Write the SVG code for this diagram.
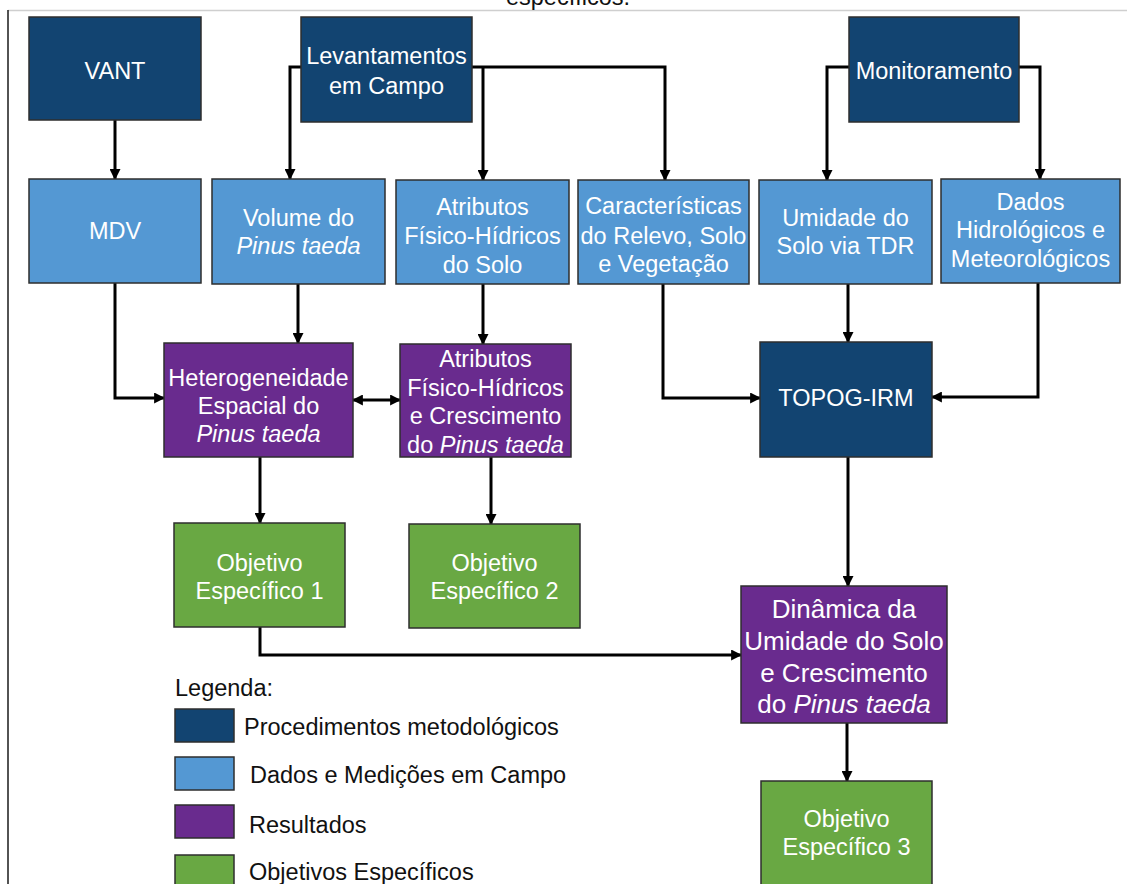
<svg xmlns="http://www.w3.org/2000/svg" width="1127" height="884" viewBox="0 0 1127 884">
  <defs>
    <style>
      .box { stroke: #2e2e2e; stroke-width: 1.5; }
      .proc { fill: #124471; }
      .data { fill: #5498d3; }
      .res { fill: #692b8e; }
      .obj { fill: #69a843; }
      .lbl { font-family: "Liberation Sans", Arial, sans-serif; font-size: 23.5px; fill: #ffffff; text-anchor: middle; }
      .big { font-size: 26px; }
      .leg { font-family: "Liberation Sans", Arial, sans-serif; font-size: 23.5px; fill: #111111; }
      .it { font-style: italic; }
      .wire { fill: none; stroke: #000000; stroke-width: 3; }
    </style>
    <marker id="arrow" markerUnits="userSpaceOnUse" viewBox="0 0 10 10" refX="9" refY="5" markerWidth="11" markerHeight="11" orient="auto-start-reverse">
      <path d="M0,0 L10,5 L0,10 z" fill="#000000"/>
    </marker>
  </defs>

  <rect width="1127" height="884" fill="#ffffff"/>

  <!-- page frame and caption -->
  <line x1="8" y1="10.5" x2="1127" y2="10.5" stroke="#cfcfcf" stroke-width="1.5"/>
  <line x1="8" y1="10" x2="8" y2="884" stroke="#1a1a1a" stroke-width="1.5"/>
  <text x="568" y="5" class="leg" text-anchor="middle">específicos.</text>

  <!-- connectors -->
  <g id="connectors" class="wire">
    <path d="M115,120 V179" marker-end="url(#arrow)"/>
    <path d="M301,67 H290 V179" marker-end="url(#arrow)"/>
    <path d="M472,67 H665 V180" marker-end="url(#arrow)"/>
    <path d="M483,67 V180" marker-end="url(#arrow)"/>
    <path d="M849,67 H827 V180" marker-end="url(#arrow)"/>
    <path d="M1019,67 H1040 V179" marker-end="url(#arrow)"/>
    <path d="M115,283 V398 H164" marker-end="url(#arrow)"/>
    <path d="M298,284 V343" marker-end="url(#arrow)"/>
    <path d="M483,284 V344" marker-end="url(#arrow)"/>
    <path d="M353,400 H400" marker-start="url(#arrow)" marker-end="url(#arrow)"/>
    <path d="M663,284 V398 H760" marker-end="url(#arrow)"/>
    <path d="M848,284 V342" marker-end="url(#arrow)"/>
    <path d="M1038,283 V397 H932" marker-end="url(#arrow)"/>
    <path d="M260,457 V523" marker-end="url(#arrow)"/>
    <path d="M491,457 V524" marker-end="url(#arrow)"/>
    <path d="M848,457 V586" marker-end="url(#arrow)"/>
    <path d="M260,627 V655 H741" marker-end="url(#arrow)"/>
    <path d="M847,723 V781" marker-end="url(#arrow)"/>
  </g>

  <!-- methodological procedures -->
  <g id="vant">
    <rect x="29" y="17" width="172" height="103" class="box proc"/>
    <text x="115" y="79" class="lbl">VANT</text>
  </g>
  <g id="levantamentos">
    <rect x="301" y="17" width="171" height="105" class="box proc"/>
    <text class="lbl"><tspan x="386.5" y="64">Levantamentos</tspan><tspan x="386.5" y="94">em Campo</tspan></text>
  </g>
  <g id="monitoramento">
    <rect x="849" y="17" width="170" height="105" class="box proc"/>
    <text x="934" y="79" class="lbl">Monitoramento</text>
  </g>

  <!-- field data and measurements -->
  <g id="mdv">
    <rect x="29" y="179" width="172" height="104" class="box data"/>
    <text x="115" y="239" class="lbl">MDV</text>
  </g>
  <g id="volume">
    <rect x="212" y="179" width="173" height="105" class="box data"/>
    <text class="lbl"><tspan x="298.5" y="226">Volume do</tspan><tspan x="298.5" y="254" class="it">Pinus taeda</tspan></text>
  </g>
  <g id="atributos-solo">
    <rect x="396" y="180" width="173" height="104" class="box data"/>
    <text class="lbl"><tspan x="482.5" y="215">Atributos</tspan><tspan x="482.5" y="244">Físico-Hídricos</tspan><tspan x="482.5" y="273">do Solo</tspan></text>
  </g>
  <g id="caracteristicas">
    <rect x="578" y="180" width="171" height="104" class="box data"/>
    <text class="lbl"><tspan x="663.5" y="214">Características</tspan><tspan x="663.5" y="244">do Relevo, Solo</tspan><tspan x="663.5" y="272">e Vegetação</tspan></text>
  </g>
  <g id="umidade-tdr">
    <rect x="759" y="180" width="173" height="104" class="box data"/>
    <text class="lbl"><tspan x="845.5" y="226">Umidade do</tspan><tspan x="845.5" y="254">Solo via TDR</tspan></text>
  </g>
  <g id="dados-hidro">
    <rect x="941" y="179" width="179" height="104" class="box data"/>
    <text class="lbl"><tspan x="1030.5" y="210">Dados</tspan><tspan x="1030.5" y="238">Hidrológicos e</tspan><tspan x="1030.5" y="267">Meteorológicos</tspan></text>
  </g>

  <!-- results -->
  <g id="heterogeneidade">
    <rect x="164" y="343" width="189" height="114" class="box res"/>
    <text class="lbl"><tspan x="258.5" y="386">Heterogeneidade</tspan><tspan x="258.5" y="414">Espacial do</tspan><tspan x="258.5" y="442" class="it">Pinus taeda</tspan></text>
  </g>
  <g id="atributos-crescimento">
    <rect x="400" y="344" width="171" height="113" class="box res"/>
    <text class="lbl"><tspan x="485.5" y="367">Atributos</tspan><tspan x="485.5" y="396">Físico-Hídricos</tspan><tspan x="485.5" y="424">e Crescimento</tspan><tspan x="485.5" y="453">do <tspan class="it">Pinus taeda</tspan></tspan></text>
  </g>
  <g id="topog-irm">
    <rect x="760" y="342" width="172" height="115" class="box proc"/>
    <text x="846" y="406" class="lbl">TOPOG-IRM</text>
  </g>
  <g id="dinamica">
    <rect x="741" y="586" width="206" height="137" class="box res"/>
    <text class="lbl big"><tspan x="844" y="618">Dinâmica da</tspan><tspan x="844" y="650">Umidade do Solo</tspan><tspan x="844" y="682">e Crescimento</tspan><tspan x="844" y="713">do <tspan class="it">Pinus taeda</tspan></tspan></text>
  </g>

  <!-- specific objectives -->
  <g id="objetivo-1">
    <rect x="174" y="523" width="171" height="104" class="box obj"/>
    <text class="lbl"><tspan x="259.5" y="571">Objetivo</tspan><tspan x="259.5" y="599">Específico 1</tspan></text>
  </g>
  <g id="objetivo-2">
    <rect x="409" y="524" width="171" height="104" class="box obj"/>
    <text class="lbl"><tspan x="494.5" y="571">Objetivo</tspan><tspan x="494.5" y="599">Específico 2</tspan></text>
  </g>
  <g id="objetivo-3">
    <rect x="761" y="781" width="171" height="112" class="box obj"/>
    <text class="lbl"><tspan x="846.5" y="827">Objetivo</tspan><tspan x="846.5" y="855">Específico 3</tspan></text>
  </g>

  <!-- legend -->
  <g id="legenda">
    <text x="175" y="696" class="leg">Legenda:</text>
    <rect x="175" y="709" width="59" height="33" class="box proc"/>
    <text x="244" y="735" class="leg">Procedimentos metodológicos</text>
    <rect x="175" y="757" width="59" height="33" class="box data"/>
    <text x="250" y="783" class="leg">Dados e Medições em Campo</text>
    <rect x="175" y="805" width="59" height="33" class="box res"/>
    <text x="249" y="833" class="leg">Resultados</text>
    <rect x="175" y="855" width="59" height="33" class="box obj"/>
    <text x="249" y="880" class="leg">Objetivos Específicos</text>
  </g>
</svg>
